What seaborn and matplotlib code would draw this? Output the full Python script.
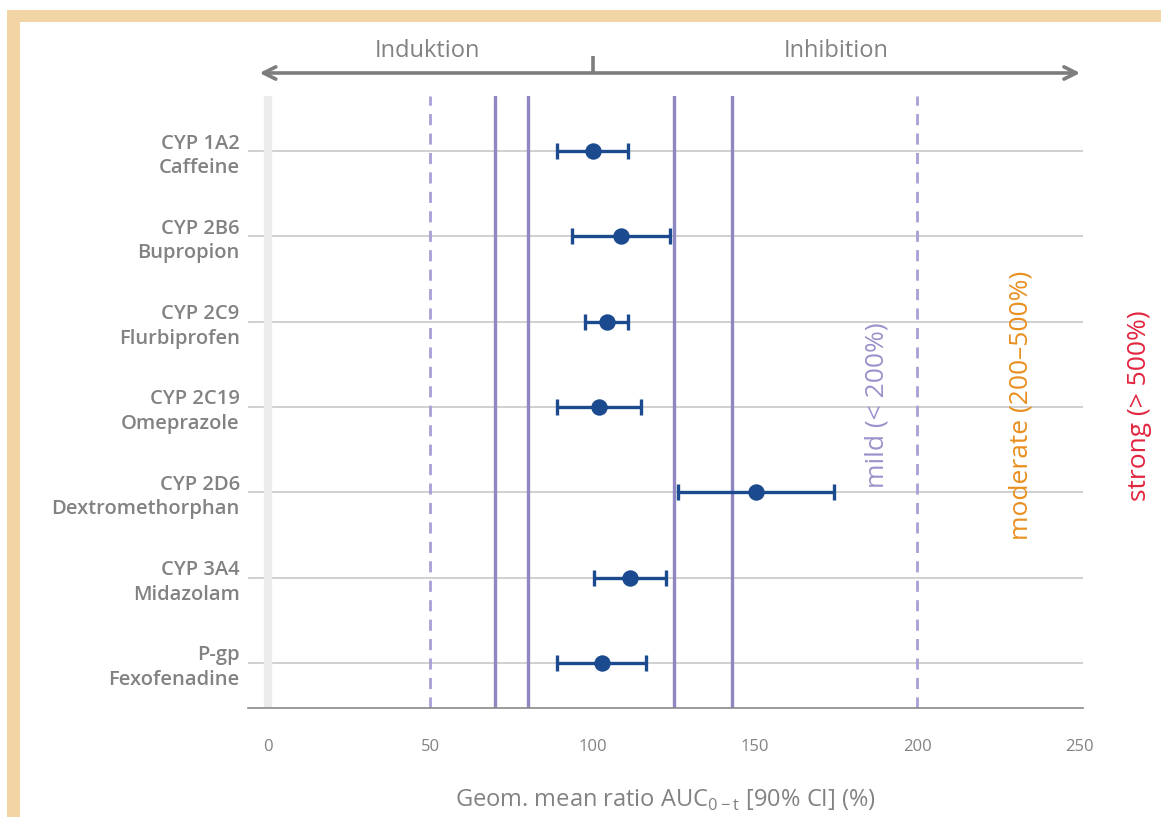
import matplotlib
matplotlib.use("Agg")
import matplotlib.pyplot as plt
import matplotlib.transforms as mtransforms
from matplotlib.patches import Rectangle
import seaborn as sns
import pandas as pd

# data
enzymes = ["CYP 1A2", "CYP 2B6", "CYP 2C9", "CYP 2C19", "CYP 2D6", "CYP 3A4", "P-gp"]
substrates = ["Caffeine", "Bupropion", "Flurbiprofen", "Omeprazole",
              "Dextromethorphan", "Midazolam", "Fexofenadine"]
gmr = [100.0, 108.7, 104.3, 102.0, 150.2, 111.5, 102.9]
ci_low = [89.0, 93.7, 97.6, 89.0, 126.3, 100.4, 89.0]
ci_high = [110.9, 123.9, 110.9, 115.0, 174.2, 122.5, 116.5]

solid_limits = [70, 80, 125, 143]
dashed_limits = [50, 200]
x_ticks = [0, 50, 100, 150, 200, 250]
x_minor = [25, 75, 125, 175, 225]

sns.set_style("white")
plt.rcParams['font.family'] = ['Open Sans', 'DejaVu Sans']

grey = "#828282"
blue = "#1b4a8f"
lav = "#8e87c2"

df = pd.DataFrame({"pos": range(len(enzymes)), "gmr": gmr,
                   "lo": ci_low, "hi": ci_high})

fig = plt.figure(figsize=(11.61, 8.17), dpi=100)
ax = fig.add_axes([0.2136, 0.1334, 0.7192, 0.7491])

# frame around the picture
fig.add_artist(Rectangle((7/1161, 1 - 22/817), 1, 12/817, transform=fig.transFigure,
                         color="#f3d5a5", lw=0, zorder=0))
fig.add_artist(Rectangle((7/1161, 0), 13/1161, 1 - 10/817, transform=fig.transFigure,
                         color="#f3d5a5", lw=0, zorder=0))

for i in df["pos"]:
    ax.axhline(i, color="#c4c4c4", lw=1.1, zorder=1)
ax.axvline(0, color="#ebebeb", lw=6, zorder=1.5)
for x in dashed_limits:
    ax.axvline(x, color="#a6a0d6", lw=2, ls=(0, (4, 3)), zorder=2)
for x in solid_limits:
    ax.axvline(x, color=lav, lw=2.4, zorder=2)

ax.errorbar(df["gmr"], df["pos"], xerr=[df["gmr"] - df["lo"], df["hi"] - df["gmr"]],
            fmt="none", ecolor=blue, elinewidth=2.4, capsize=6, capthick=2.4, zorder=3)
sns.scatterplot(data=df, x="gmr", y="pos", ax=ax, color=blue, s=140,
                edgecolor=blue, linewidth=0, zorder=4, legend=False)

ax.set_xlim(-6.2, 251)
ax.set_ylim(6.53, -0.645)
ax.set_ylabel("")

ax.set_yticks(range(len(enzymes)))
ax.set_yticklabels([f"{e}\n{s}" for e, s in zip(enzymes, substrates)],
                   fontsize=14.5, color=grey, fontweight="semibold", linespacing=1.3)
ax.tick_params(axis="y", length=0, pad=6)

ax.set_xticks(x_ticks)
ax.set_xticks(x_minor, minor=True)
ax.set_xticklabels([str(t) for t in x_ticks], fontsize=12, color=grey)
ax.tick_params(axis="x", which="major", direction="out", length=12, width=1, color="#9a9a9a", pad=10)
ax.tick_params(axis="x", which="minor", direction="out", length=6, width=1, color="#9a9a9a")
ax.set_xlabel(r"Geom. mean ratio AUC$_{\mathregular{0-t}}$ [90% CI] (%)",
              fontsize=17, color=grey, labelpad=24)

for side in ["top", "right", "left"]:
    ax.spines[side].set_visible(False)
ax.spines["bottom"].set_color("#8a8a8a")
ax.spines["bottom"].set_linewidth(1.2)

# induction / inhibition arrow above the plot
tr = mtransforms.blended_transform_factory(ax.transData, ax.transAxes)
ax.annotate("", xy=(-3.5, 1.0376), xytext=(251, 1.0376), xycoords=tr, textcoords=tr,
            arrowprops=dict(arrowstyle="<->", color="#7d7d7d", lw=2.6,
                            mutation_scale=22), annotation_clip=False)
ax.plot([100, 100], [1.0376, 1.066], transform=tr, color="#7d7d7d", lw=2.6,
        clip_on=False, solid_capstyle="butt")
ax.text(49, 1.073, "Induktion", transform=tr, ha="center", va="center",
        fontsize=17, color=grey)
ax.text(175, 1.073, "Inhibition", transform=tr, ha="center", va="center",
        fontsize=17, color=grey)

# strength labels
ax.text(187.5, 2.98, "mild (< 200%)", rotation=90, ha="center", va="center",
        fontsize=19, color="#9a93cc", clip_on=False)
ax.text(232, 2.98, "moderate (200–500%)", rotation=90, ha="center", va="center",
        fontsize=19, color="#e88f1f", clip_on=False)
ax.text(268.5, 2.98, "strong (> 500%)", rotation=90, ha="center", va="center",
        fontsize=19, color="#e2253e", clip_on=False)

fig.savefig("out.png", dpi=100)
